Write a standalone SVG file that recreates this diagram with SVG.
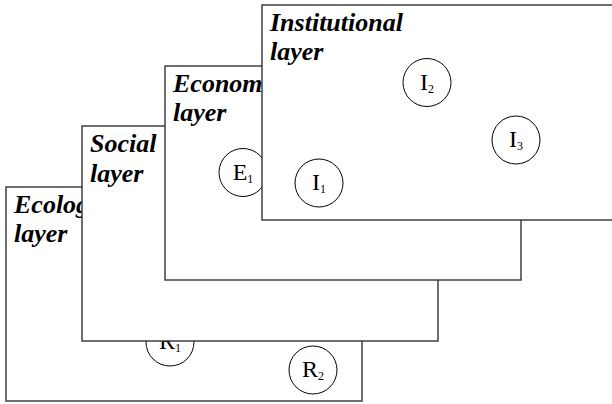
<svg xmlns="http://www.w3.org/2000/svg" width="612" height="404" viewBox="0 0 612 404">
  <style>
    .layer { fill: #ffffff; stroke: #333333; stroke-width: 1.4; }
    .title { font-family: "Liberation Serif", "Times New Roman", serif; font-weight: bold; font-style: italic; font-size: 26px; fill: #000000; }
    .node { fill: #ffffff; stroke: #000000; stroke-width: 1; }
    .lbl { font-family: "Liberation Serif", "Times New Roman", serif; font-size: 24px; fill: #000000; text-anchor: middle; }
    .sub { font-size: 12px; }
  </style>
  <rect width="612" height="404" fill="#ffffff"/>

  <!-- back sheet: ecological layer -->
  <g id="ecological-layer">
    <rect class="layer" x="6" y="187" width="356" height="214"/>
    <text class="title" x="14" y="213">Ecological</text>
    <text class="title" x="14" y="242">layer</text>
  </g>
  <g id="node-R1">
    <circle class="node" cx="170" cy="342" r="24"/>
    <text class="lbl" x="170" y="349">R<tspan class="sub" dy="3">1</tspan></text>
  </g>
  <g id="node-R2">
    <circle class="node" cx="313" cy="370" r="24"/>
    <text class="lbl" x="313" y="377">R<tspan class="sub" dy="3">2</tspan></text>
  </g>

  <!-- social layer -->
  <g id="social-layer">
    <rect class="layer" x="82" y="126" width="356" height="215"/>
    <text class="title" x="90" y="152">Social</text>
    <text class="title" x="90" y="182">layer</text>
  </g>

  <!-- economic layer -->
  <g id="economic-layer">
    <rect class="layer" x="165" y="66" width="356" height="214"/>
    <text class="title" x="173" y="92">Economic</text>
    <text class="title" x="173" y="121">layer</text>
  </g>
  <g id="node-E1">
    <circle class="node" cx="243" cy="172.5" r="24"/>
    <text class="lbl" x="243" y="180">E<tspan class="sub" dy="3">1</tspan></text>
  </g>

  <!-- front sheet: institutional layer -->
  <g id="institutional-layer">
    <rect class="layer" x="262" y="5" width="356" height="215"/>
    <text class="title" x="270" y="31">Institutional</text>
    <text class="title" x="270" y="60">layer</text>
  </g>
  <g id="node-I1">
    <circle class="node" cx="319" cy="183" r="24"/>
    <text class="lbl" x="319" y="190">I<tspan class="sub" dy="3">1</tspan></text>
  </g>
  <g id="node-I2">
    <circle class="node" cx="427" cy="82.5" r="24"/>
    <text class="lbl" x="427" y="90">I<tspan class="sub" dy="3">2</tspan></text>
  </g>
  <g id="node-I3">
    <circle class="node" cx="516" cy="140" r="24"/>
    <text class="lbl" x="516" y="147">I<tspan class="sub" dy="3">3</tspan></text>
  </g>

  <!-- no connectors are drawn between the nodes -->
  <g id="connectors"/>
</svg>
